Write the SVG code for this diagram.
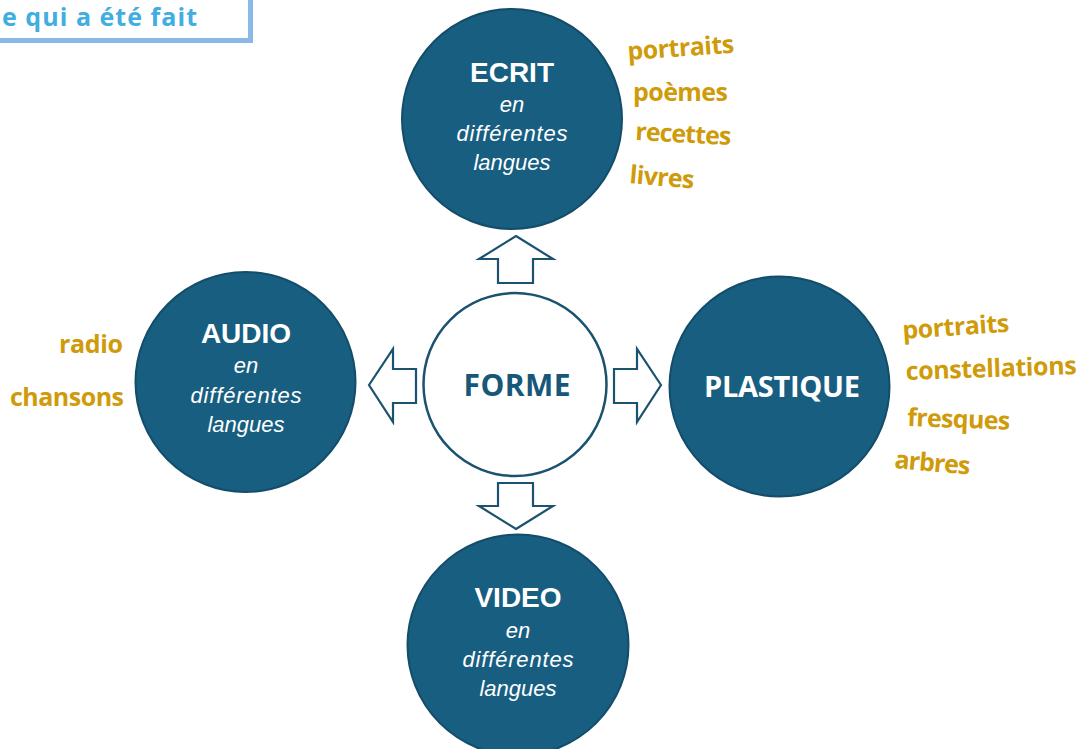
<svg xmlns="http://www.w3.org/2000/svg" width="1082" height="749" viewBox="0 0 1082 749">
<style>
.node{fill:#175e80;stroke:#134d69;stroke-width:2}
.arrow{fill:#ffffff;stroke:#1a5270;stroke-width:2.2;stroke-linejoin:miter}
.t{font-family:"Liberation Sans",Arial,sans-serif;font-weight:bold;font-size:28px;fill:#ffffff;text-anchor:middle}
.s{font-family:"Liberation Sans",Arial,sans-serif;font-style:italic;font-size:22px;fill:#ffffff;text-anchor:middle}
.o{font-family:"Open Sans","Noto Sans",sans-serif;font-weight:bold}
.g{font-family:"Open Sans","Noto Sans",sans-serif;font-weight:bold;font-size:25px;fill:#cf9b0a}
</style>
<rect x="-10" y="-10" width="260.5" height="50.5" fill="#ffffff" stroke="#8ab9e7" stroke-width="5"/>
<text class="o" x="2" y="26" font-size="25" fill="#40aee0" textLength="195">e qui a été fait</text>
<g id="connectors">
<polygon class="arrow" points="516,236 553,259 533,259 533,283 498,283 498,259 479,259"/>
<polygon class="arrow" points="516,529 553,506 533,506 533,483 498,483 498,506 479,506"/>
<polygon class="arrow" points="369,385 393,349 393,369 416,369 416,403 393,403 393,422"/>
<polygon class="arrow" points="661,385 637,349 637,369 614,369 614,403 637,403 637,422"/>
</g>
<g id="forme">
<circle cx="515" cy="384.5" r="91.5" fill="#ffffff" stroke="#1a5270" stroke-width="2.5"/>
<text class="o" x="517" y="396" font-size="30" fill="#185777" text-anchor="middle" textLength="107">FORME</text>
</g>
<g id="ecrit">
<circle class="node" cx="512" cy="119" r="110"/>
<text class="t" x="512" y="82">ECRIT</text>
<text class="s" x="512" y="112">en</text>
<text class="s" x="512" y="141" textLength="111">différentes</text>
<text class="s" x="512" y="170">langues</text>
</g>
<g id="audio">
<circle class="node" cx="245.5" cy="382" r="110"/>
<text class="t" x="246" y="343">AUDIO</text>
<text class="s" x="246" y="373">en</text>
<text class="s" x="246" y="403" textLength="111">différentes</text>
<text class="s" x="246" y="432">langues</text>
</g>
<g id="plastique">
<circle class="node" cx="779.5" cy="386.5" r="110"/>
<text class="o" x="782" y="397" font-size="29" fill="#ffffff" text-anchor="middle" textLength="156">PLASTIQUE</text>
</g>
<g id="video">
<circle class="node" cx="518" cy="645" r="110.5"/>
<text class="t" x="518" y="607">VIDEO</text>
<text class="s" x="518" y="638">en</text>
<text class="s" x="518" y="667" textLength="111">différentes</text>
<text class="s" x="518" y="696">langues</text>
</g>
<g id="ecrit-labels">
<text class="g" x="628" y="60" transform="rotate(-4 628 60)" textLength="107">portraits</text>
<text class="g" x="633" y="101" textLength="95">poèmes</text>
<text class="g" x="635" y="140" transform="rotate(3 635 140)" textLength="96">recettes</text>
<text class="g" x="629" y="183" transform="rotate(5 629 183)" textLength="65">livres</text>
</g>
<g id="audio-labels">
<text class="g" x="123" y="353" text-anchor="end" textLength="64">radio</text>
<text class="g" x="124" y="406" text-anchor="end" textLength="114">chansons</text>
</g>
<g id="plastique-labels">
<text class="g" x="903" y="339" transform="rotate(-4 903 339)" textLength="107">portraits</text>
<text class="g" x="906" y="380" transform="rotate(-2 906 380)" textLength="171">constellations</text>
<text class="g" x="907" y="426" transform="rotate(2 907 426)" textLength="103">fresques</text>
<text class="g" x="894" y="468" transform="rotate(5 894 468)" textLength="76">arbres</text>
</g>
</svg>
